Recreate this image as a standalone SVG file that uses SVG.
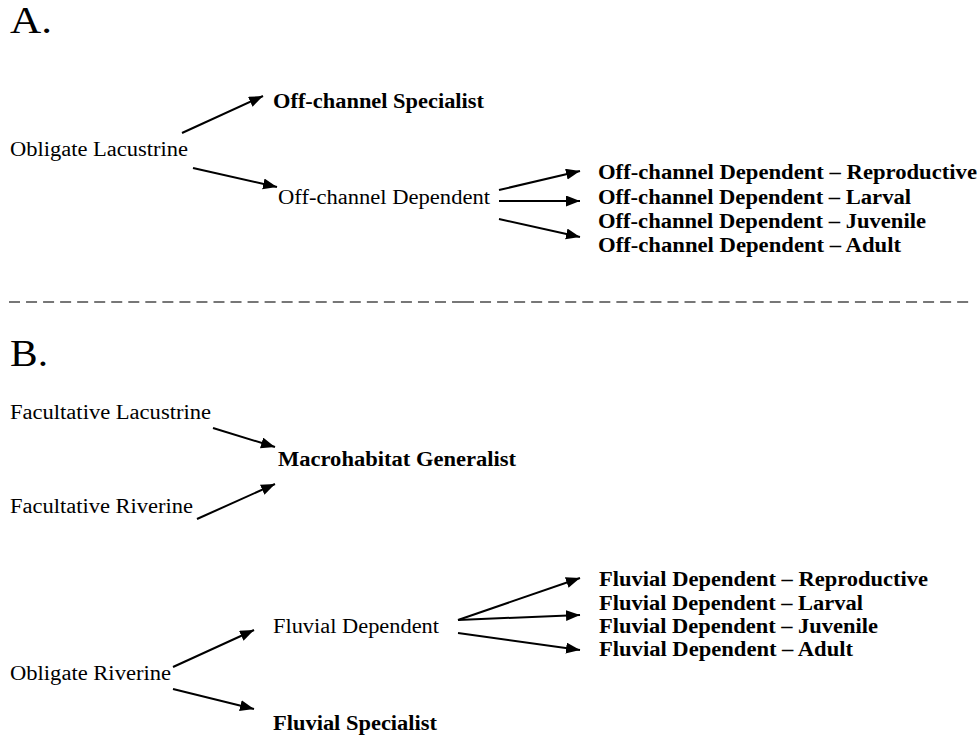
<svg xmlns="http://www.w3.org/2000/svg" width="980" height="736" viewBox="0 0 980 736">
  <style>
    text { font-family: "Liberation Serif", "Times New Roman", serif; fill: #000; }
    .lbl { font-size: 20px; }
    .bold { font-size: 20px; font-weight: bold; }
    .head { font-size: 38px; }
    .arrow { stroke: #000; stroke-width: 2; fill: none; marker-end: url(#tip); }
    .divider { stroke: #777; stroke-width: 2.2; stroke-dasharray: 11 6.04; }
  </style>
  <defs>
    <marker id="tip" markerUnits="userSpaceOnUse" markerWidth="15" markerHeight="12" refX="14" refY="5.5" orient="auto">
      <path d="M0,0 L14,5.5 L0,11 z" fill="#000"/>
    </marker>
  </defs>
  <rect width="980" height="736" fill="#fff"/>

  <!-- Panel A -->
  <text id="label-a" class="head" x="10" y="33" textLength="42" lengthAdjust="spacingAndGlyphs">A.</text>

  <g id="obligate-lacustrine"><text class="lbl" x="10" y="156" textLength="178" lengthAdjust="spacingAndGlyphs">Obligate Lacustrine</text></g>
  <g id="offchannel-specialist"><text class="bold" x="273" y="108" textLength="211" lengthAdjust="spacingAndGlyphs">Off-channel Specialist</text></g>
  <g id="offchannel-dependent"><text class="lbl" x="278" y="204" textLength="212" lengthAdjust="spacingAndGlyphs">Off-channel Dependent</text></g>
  <g id="ocd-reproductive"><text class="bold" x="598" y="179" textLength="379" lengthAdjust="spacingAndGlyphs">Off-channel Dependent – Reproductive</text></g>
  <g id="ocd-larval"><text class="bold" x="598" y="204" textLength="313" lengthAdjust="spacingAndGlyphs">Off-channel Dependent – Larval</text></g>
  <g id="ocd-juvenile"><text class="bold" x="598" y="228" textLength="328" lengthAdjust="spacingAndGlyphs">Off-channel Dependent – Juvenile</text></g>
  <g id="ocd-adult"><text class="bold" x="598" y="252" textLength="303" lengthAdjust="spacingAndGlyphs">Off-channel Dependent – Adult</text></g>

  <!-- Divider between panels -->
  <g id="divider">
    <line class="divider" x1="9" y1="302" x2="463" y2="302"/>
    <line class="divider" x1="463" y1="302" x2="969" y2="302"/>
  </g>

  <!-- Panel B -->
  <text id="label-b" class="head" x="10" y="366" textLength="38" lengthAdjust="spacingAndGlyphs">B.</text>

  <g id="facultative-lacustrine"><text class="lbl" x="10" y="419" textLength="201" lengthAdjust="spacingAndGlyphs">Facultative Lacustrine</text></g>
  <g id="macrohabitat-generalist"><text class="bold" x="278" y="466" textLength="238" lengthAdjust="spacingAndGlyphs">Macrohabitat Generalist</text></g>
  <g id="facultative-riverine"><text class="lbl" x="10" y="513" textLength="183" lengthAdjust="spacingAndGlyphs">Facultative Riverine</text></g>
  <g id="fluvial-dependent"><text class="lbl" x="273" y="633" textLength="166" lengthAdjust="spacingAndGlyphs">Fluvial Dependent</text></g>
  <g id="obligate-riverine"><text class="lbl" x="10" y="680" textLength="161" lengthAdjust="spacingAndGlyphs">Obligate Riverine</text></g>
  <g id="fluvial-specialist"><text class="bold" x="273" y="730" textLength="164" lengthAdjust="spacingAndGlyphs">Fluvial Specialist</text></g>
  <g id="fd-reproductive"><text class="bold" x="599" y="586" textLength="329" lengthAdjust="spacingAndGlyphs">Fluvial Dependent – Reproductive</text></g>
  <g id="fd-larval"><text class="bold" x="599" y="610" textLength="264" lengthAdjust="spacingAndGlyphs">Fluvial Dependent – Larval</text></g>
  <g id="fd-juvenile"><text class="bold" x="599" y="633" textLength="279" lengthAdjust="spacingAndGlyphs">Fluvial Dependent – Juvenile</text></g>
  <g id="fd-adult"><text class="bold" x="599" y="656" textLength="254" lengthAdjust="spacingAndGlyphs">Fluvial Dependent – Adult</text></g>

  <!-- Connectors -->
  <g id="connectors">
    <line class="arrow" x1="182" y1="133" x2="263" y2="96"/>
    <line class="arrow" x1="193" y1="168" x2="277" y2="187"/>
    <line class="arrow" x1="499" y1="190" x2="580" y2="171"/>
    <line class="arrow" x1="499" y1="201" x2="580" y2="201"/>
    <line class="arrow" x1="499" y1="219" x2="580" y2="237"/>

    <line class="arrow" x1="213" y1="428" x2="275" y2="447"/>
    <line class="arrow" x1="197" y1="519" x2="275" y2="484"/>
    <line class="arrow" x1="173" y1="667" x2="254" y2="630"/>
    <line class="arrow" x1="173" y1="689" x2="254" y2="709"/>
    <line class="arrow" x1="458" y1="620" x2="580" y2="578"/>
    <line class="arrow" x1="458" y1="620" x2="580" y2="615"/>
    <line class="arrow" x1="458" y1="633" x2="580" y2="650"/>
  </g>
</svg>
